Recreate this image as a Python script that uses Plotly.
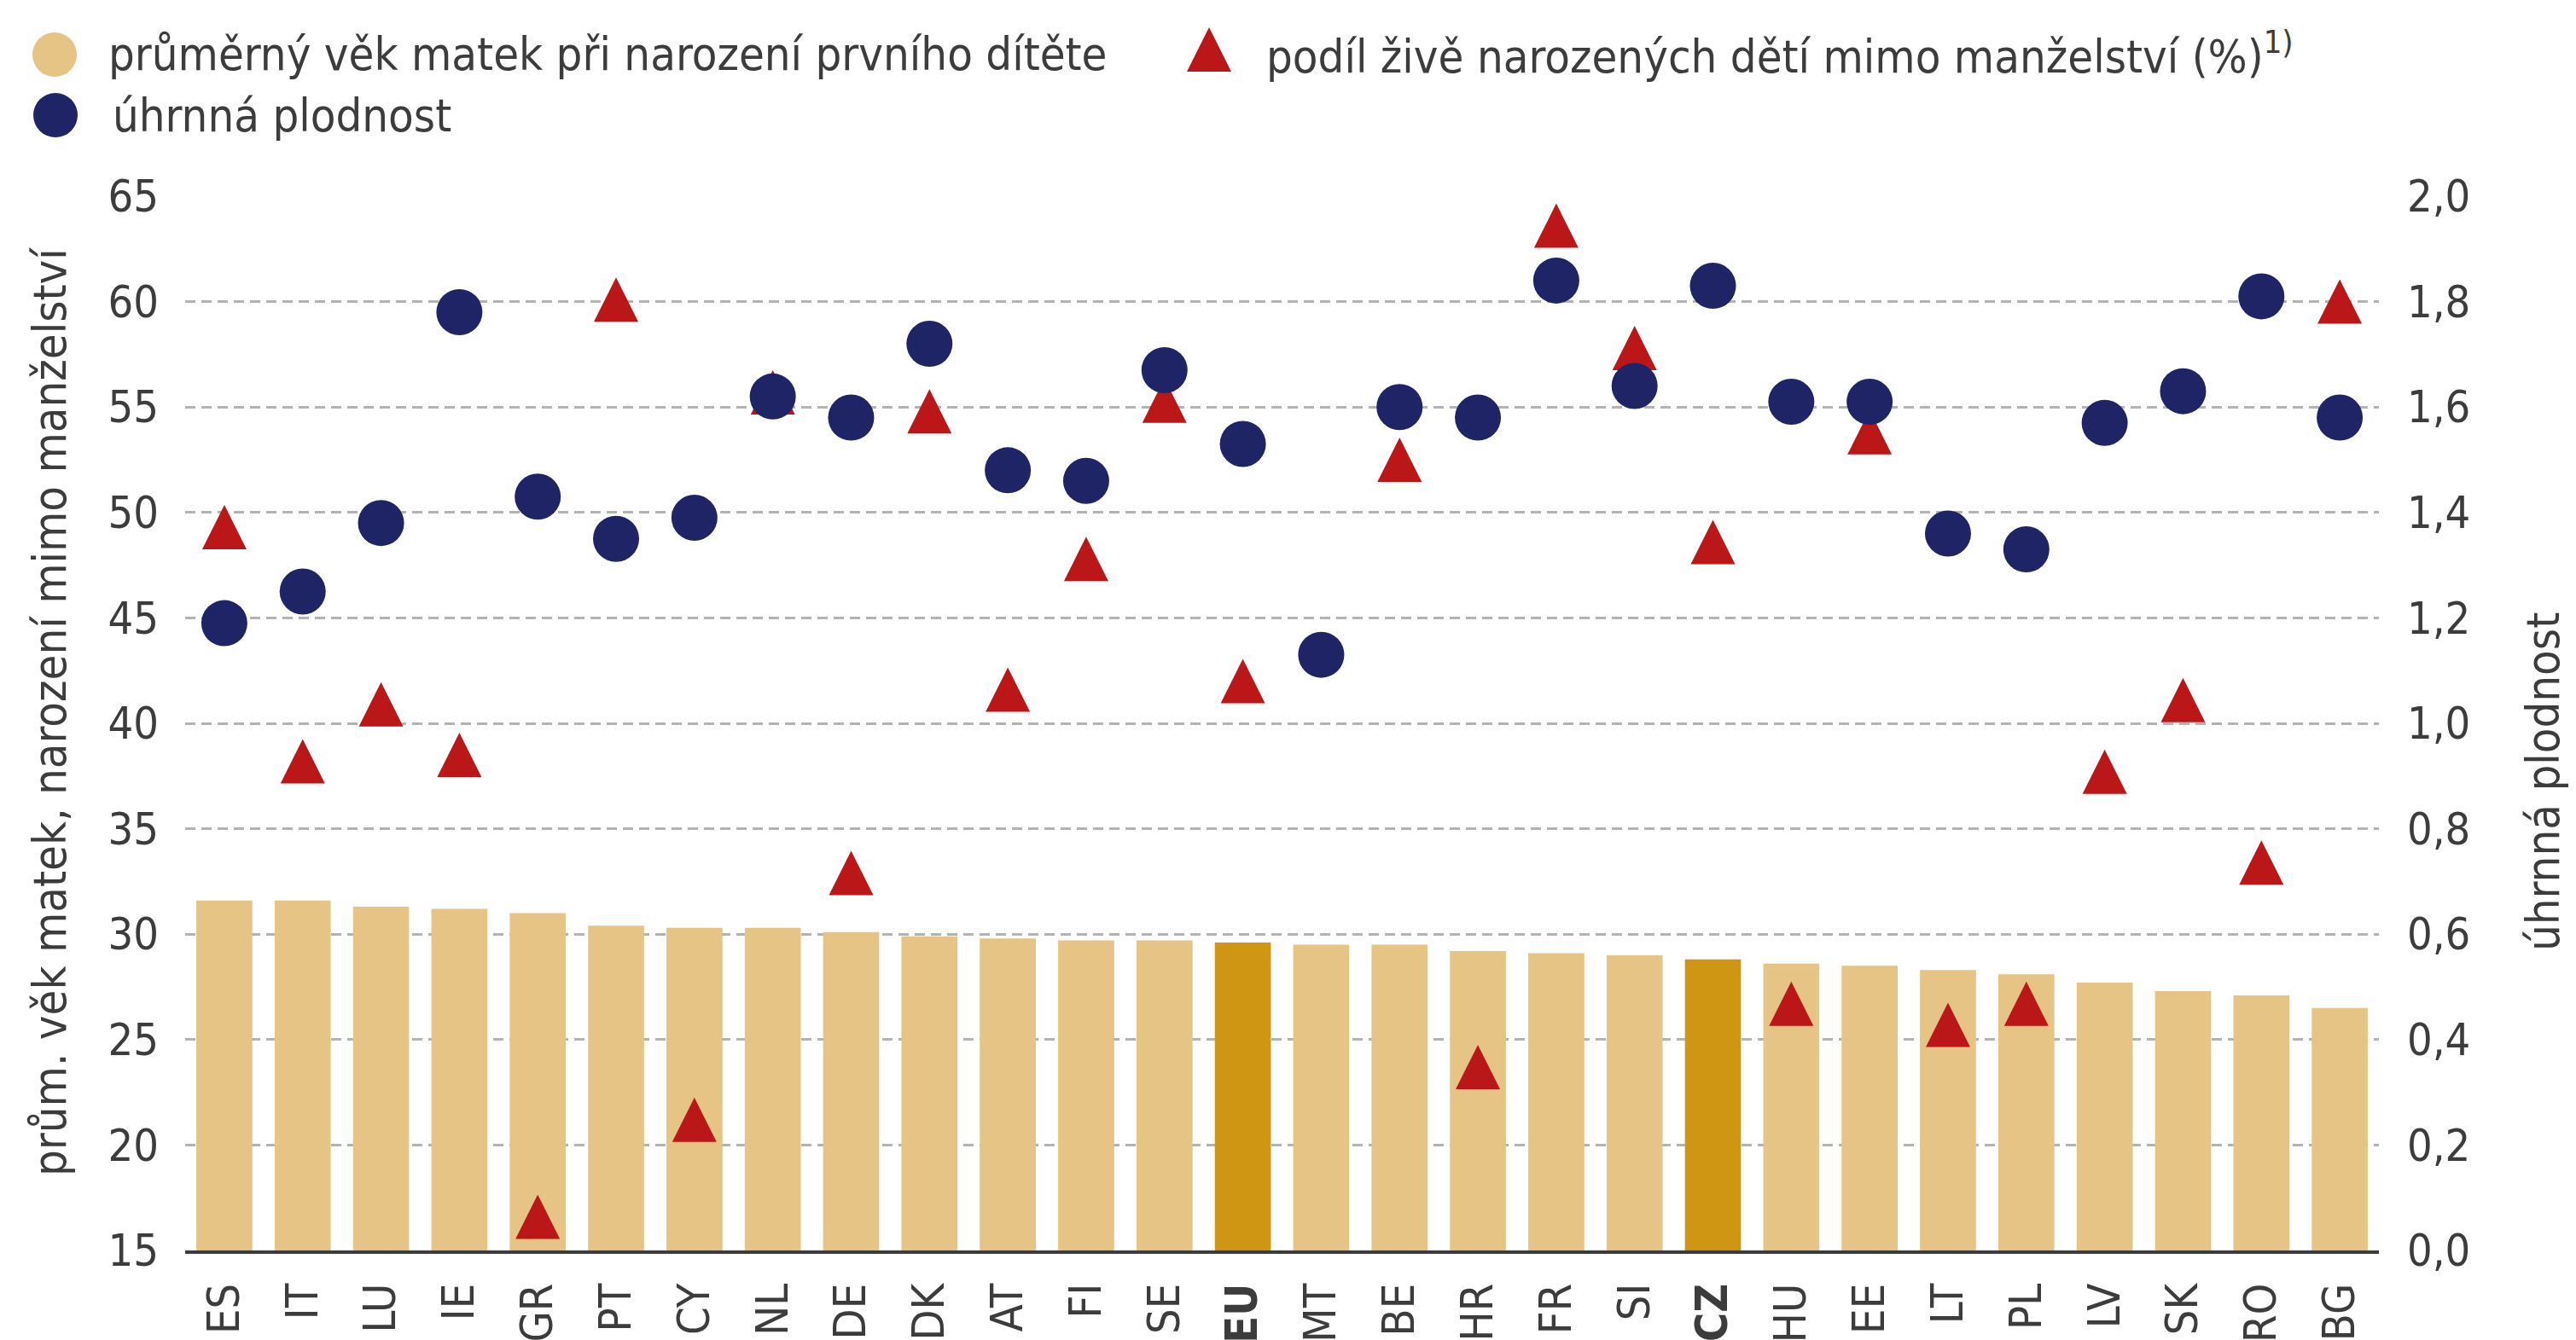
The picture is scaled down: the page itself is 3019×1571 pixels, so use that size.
import plotly.graph_objects as go

countries = ["ES", "IT", "LU", "IE", "GR", "PT", "CY", "NL", "DE", "DK", "AT", "FI", "SE", "EU",
             "MT", "BE", "HR", "FR", "SI", "CZ", "HU", "EE", "LT", "PL", "LV", "SK", "RO", "BG"]
highlight = ["EU", "CZ"]

# průměrný věk matek při narození prvního dítěte (levá osa)
mean_age_first_child = [31.6, 31.6, 31.3, 31.2, 31.0, 30.4, 30.3, 30.3, 30.1, 29.9, 29.8, 29.7, 29.7, 29.6,
                        29.5, 29.5, 29.2, 29.1, 29.0, 28.8, 28.6, 28.5, 28.3, 28.1, 27.7, 27.3, 27.1, 26.5]
# podíl živě narozených dětí mimo manželství, % (levá osa)
outside_marriage = [49.3, 38.2, 40.9, 38.5, 16.6, 60.1, 21.2, 55.7, 32.9, 54.8, 41.6, 47.8, 55.3, 42.0,
                    None, 52.5, 23.7, 63.6, 57.8, 48.6, 26.7, 53.8, 25.7, 26.7, 37.7, 41.1, 33.4, 60.0]
# úhrnná plodnost (pravá osa)
total_fertility = [1.19, 1.25, 1.38, 1.78, 1.43, 1.35, 1.39, 1.62, 1.58, 1.72, 1.48, 1.46, 1.67, 1.53,
                   1.13, 1.60, 1.58, 1.84, 1.64, 1.83, 1.61, 1.61, 1.36, 1.33, 1.57, 1.63, 1.81, 1.58]

# page is drawn with the default 8px body margin, so the figure is 8px smaller than the window
PAGE_OFF = 8
W, H = 3019 - PAGE_OFF, 1571 - PAGE_OFF
L, R, T, B = 217 - PAGE_OFF, 231, 230 - PAGE_OFF, 105
PLOT_W, PLOT_H = W - L - R, H - T - B
PLOT_LEFT, PLOT_BOTTOM = L + PAGE_OFF, T + PAGE_OFF + PLOT_H

TAN, GOLD, NAVY, RED = "#E5C485", "#CE9613", "#1F2466", "#BC1718"
TEXT = "#3C3C3C"
FONT = "DejaVu Sans Condensed, Liberation Sans Narrow, Arial Narrow, sans-serif"
FS = 54
TRI = 52
CIRCLE = 54


def px_x(x):
    return (x - PLOT_LEFT) / PLOT_W


def px_y(y):
    return (PLOT_BOTTOM - y) / PLOT_H


# arrow-up has its tip on the data point; shift its axis so the triangle is centred on the value
shift = (TRI / 2) / PLOT_H * 50

bar_colors = [GOLD if c in highlight else TAN for c in countries]
tick_text = [f"<b>{c}</b>" if c in highlight else c for c in countries]

fig = go.Figure()
fig.add_trace(go.Bar(
    x=countries, y=mean_age_first_child, marker=dict(color=bar_colors, line=dict(width=0)),
    name="průměrný věk matek při narození prvního dítěte", showlegend=False,
))
fig.add_trace(go.Scatter(
    x=countries, y=outside_marriage, mode="markers", yaxis="y2",
    marker=dict(symbol="arrow-up", size=TRI, color=RED, line=dict(width=0)),
    name="podíl živě narozených dětí mimo manželství (%)", showlegend=False,
))
fig.add_trace(go.Scatter(
    x=countries, y=total_fertility, mode="markers", yaxis="y3",
    marker=dict(symbol="circle", size=CIRCLE, color=NAVY, line=dict(width=0)),
    name="úhrnná plodnost", showlegend=False,
))

tickfont = dict(family=FONT, size=52, color=TEXT)

fig.update_layout(
    width=W, height=H,
    margin=dict(l=L, r=R, t=T, b=B, autoexpand=False),
    paper_bgcolor="white", plot_bgcolor="white",
    separators=", ",
    bargap=0.285,
    font=dict(family=FONT, size=FS, color=TEXT),
    xaxis=dict(
        type="category", tickmode="array", tickvals=countries, ticktext=tick_text,
        tickangle=-90, tickfont=tickfont, ticks="", ticklabelstandoff=14,
        showline=True, linewidth=4, linecolor=TEXT, showgrid=False, automargin=False,
        range=[-0.5, len(countries) - 0.5],
    ),
    yaxis=dict(
        range=[15, 65], tick0=15, dtick=5, tickfont=tickfont, ticks="", ticklabelstandoff=30,
        showgrid=True, gridcolor="#B3B3B3", gridwidth=3, griddash="12px,7px",
        zeroline=False, showline=False, automargin=False,
    ),
    yaxis2=dict(overlaying="y", range=[15 - shift, 65 - shift], visible=False),
    yaxis3=dict(
        overlaying="y", side="right", range=[0, 2], tick0=0, dtick=0.2, tickformat=".1f",
        tickfont=tickfont, ticks="", ticklabelstandoff=32, showgrid=False,
        zeroline=False, showline=False, automargin=False,
    ),
)

annotations = [
    dict(text="prům. věk matek, narození mimo manželství", x=px_x(58), y=px_y(835), textangle=-90),
    dict(text="úhrnná plodnost", x=px_x(2980), y=px_y(917), textangle=-90),
    dict(text="průměrný věk matek při narození prvního dítěte", x=px_x(125), y=px_y(64), xanchor="left"),
    dict(text="podíl živě narozených dětí mimo manželství (%)<sup>1)</sup>", x=px_x(1482), y=px_y(62), xanchor="left"),
    dict(text="úhrnná plodnost", x=px_x(130), y=px_y(135), xanchor="left"),
]
for a in annotations:
    a.setdefault("xanchor", "center")
    fig.add_annotation(xref="paper", yref="paper", yanchor="middle", showarrow=False,
                       font=dict(family=FONT, size=FS, color=TEXT), **a)

# legend keys
r = CIRCLE / 2 - 1
for cx, cy, col in [(64, 64, TAN), (65, 135, NAVY)]:
    fig.add_shape(type="circle", xref="paper", yref="paper", xsizemode="pixel", ysizemode="pixel",
                  xanchor=px_x(cx), yanchor=px_y(cy), x0=-r, x1=r, y0=-r, y1=r,
                  fillcolor=col, line=dict(width=0))
h = TRI / 2
fig.add_shape(type="path", xref="paper", yref="paper", xsizemode="pixel", ysizemode="pixel",
              xanchor=px_x(1417), yanchor=px_y(58),
              path=f"M{-h},{-h} L{h},{-h} L0,{h} Z", fillcolor=RED, line=dict(width=0))

fig.write_html("out.html")
